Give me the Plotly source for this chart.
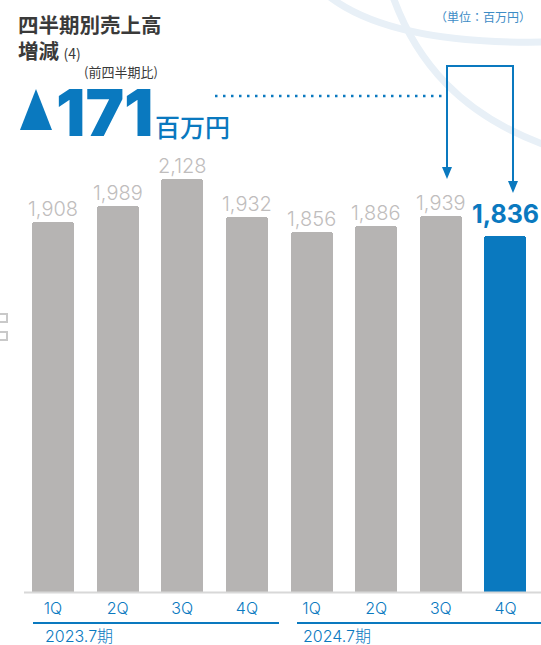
import plotly.graph_objects as go

W, H = 541, 645

# ---- data -------------------------------------------------------------
quarters = ["1Q", "2Q", "3Q", "4Q", "1Q", "2Q", "3Q", "4Q"]
sales = [1908, 1989, 2128, 1932, 1856, 1886, 1939, 1836]   # 百万円
periods = ["2023.7期", "2024.7期"]
change = 171                                              # 前四半期比 減少額（百万円）

# ---- styles -----------------------------------------------------------
BLUE = "#0a79bf"
GRAY_BAR = "#b6b4b3"
GRAY_LABEL = "#bfbdbd"
TEXT_DARK = "#3a3a3a"
ARC = "#e8f0f7"
FONT = "Inter, Noto Sans CJK JP, sans-serif"
CJK = "Noto Sans CJK JP, sans-serif"


def px(x):
    return x / W


def py(y):
    return 1 - y / H


def path(points, close=False):
    s = "M " + " L ".join(f"{px(x):.5f},{py(y):.5f}" for x, y in points)
    return s + (" Z" if close else "")


def curve(p0, c1, c2, p1):
    f = lambda p: f"{px(p[0]):.5f},{py(p[1]):.5f}"
    return f"M {f(p0)} C {f(c1)} {f(c2)} {f(p1)}"


x_pos = list(range(len(sales)))
colors = [GRAY_BAR] * (len(sales) - 1) + [BLUE]

fig = go.Figure(
    go.Bar(
        x=x_pos,
        y=sales,
        width=0.65,
        marker=dict(color=colors, line=dict(width=0), cornerradius=3),
        hoverinfo="skip",
    )
)

# value labels above each bar
annotations = []
for i, v in enumerate(sales):
    last = i == len(sales) - 1
    annotations.append(dict(
        x=i, y=v, xref="x", yref="y", text=f"<b>{v:,}</b>" if last else f"{v:,}",
        showarrow=False, yanchor="bottom", yshift=5 if last else -1,
        font=dict(family=FONT, size=25 if last else 20,
                  color=BLUE if last else GRAY_LABEL,
                  weight=700 if last else 300),
    ))

# fiscal period labels under the quarter ticks
for xp, label in zip((43, 301), periods):
    annotations.append(dict(
        x=px(xp), y=py(636), xref="paper", yref="paper", text=label,
        xanchor="left", yanchor="middle", showarrow=False,
        font=dict(family=FONT, size=16, color=BLUE, weight=300)))

# heading block
annotations += [
    dict(x=px(16), y=py(24), xref="paper", yref="paper", text="<b>四半期別売上高</b>",
         xanchor="left", yanchor="middle", showarrow=False,
         font=dict(family=CJK, size=20.5, color=TEXT_DARK)),
    dict(x=px(16), y=py(50), xref="paper", yref="paper",
         text="<b>増減</b> <span style='font-size:14px;font-weight:normal'>(4)</span>",
         xanchor="left", yanchor="middle", showarrow=False,
         font=dict(family=CJK, size=20.5, color=TEXT_DARK)),
    dict(x=px(82), y=py(71), xref="paper", yref="paper", text="(前四半期比)",
         xanchor="left", yanchor="middle", showarrow=False,
         font=dict(family=CJK, size=13, color=TEXT_DARK)),
    dict(x=px(54), y=py(113), xref="paper", yref="paper", text=f"{change}",
         xanchor="left", yanchor="middle", showarrow=False,
         font=dict(family="Inter", size=65, color=BLUE, weight=900)),
    dict(x=px(153), y=py(126), xref="paper", yref="paper", text="百万円",
         xanchor="left", yanchor="middle", showarrow=False,
         font=dict(family=CJK, size=25, color=BLUE, weight=500)),
    dict(x=px(533), y=py(16), xref="paper", yref="paper", text="（単位：百万円）",
         xanchor="right", yanchor="middle", showarrow=False,
         font=dict(family=CJK, size=12, color="#3d8cc6")),
]

shapes = [
    # decorative background arcs
    dict(type="path", xref="paper", yref="paper", layer="below",
         path=curve((326, -6), (370, 30), (450, 44), (548, 42)),
         line=dict(color=ARC, width=7)),
    dict(type="path", xref="paper", yref="paper", layer="below",
         path=curve((392, -6), (415, 60), (460, 115), (548, 146)),
         line=dict(color=ARC, width=7)),
    # baseline
    dict(type="line", xref="paper", yref="paper", x0=px(24), x1=px(541),
         y0=py(592.5), y1=py(592.5), line=dict(color="#d8d8d8", width=2)),
    # period underlines
    dict(type="line", xref="paper", yref="paper", x0=px(33), x1=px(279),
         y0=py(623), y1=py(623), line=dict(color=BLUE, width=2)),
    dict(type="line", xref="paper", yref="paper", x0=px(297), x1=px(541),
         y0=py(623), y1=py(623), line=dict(color=BLUE, width=2)),
    # decrease marker
    dict(type="path", xref="paper", yref="paper",
         path=path([(20, 130), (36, 89), (52, 130)], close=True),
         fillcolor=BLUE, line=dict(width=0)),
    # dotted leader
    dict(type="line", xref="paper", yref="paper", x0=px(215), x1=px(442),
         y0=py(96), y1=py(96), line=dict(color=BLUE, width=2.5, dash="2.5px,5.5px")),
    # comparison bracket with arrows
    dict(type="path", xref="paper", yref="paper",
         path=path([(447, 168), (447, 66), (513, 66), (513, 182)]),
         line=dict(color=BLUE, width=2)),
    dict(type="path", xref="paper", yref="paper",
         path=path([(442, 167), (452, 167), (447, 179)], close=True),
         fillcolor=BLUE, line=dict(width=0)),
    dict(type="path", xref="paper", yref="paper",
         path=path([(508, 181), (518, 181), (513, 193)], close=True),
         fillcolor=BLUE, line=dict(width=0)),
    # small marks at the left edge
    dict(type="rect", xref="paper", yref="paper", x0=px(-3), x1=px(7),
         y0=py(322), y1=py(314), line=dict(color="#c9c9c9", width=2)),
    dict(type="rect", xref="paper", yref="paper", x0=px(-3), x1=px(7),
         y0=py(340), y1=py(332), line=dict(color="#c9c9c9", width=2)),
]

step = 64.64
x0 = -53 / step
fig.update_layout(
    width=W, height=H,
    margin=dict(l=0, r=0, t=0, b=0),
    paper_bgcolor="white", plot_bgcolor="rgba(0,0,0,0)",
    showlegend=False,
    bargap=0,
    xaxis=dict(range=[x0, x0 + W / step], domain=[0, 1],
               tickvals=x_pos, ticktext=quarters, ticks="",
               ticklabelstandoff=5,
               showgrid=False, zeroline=False, showline=False,
               tickfont=dict(family=FONT, size=16, color=BLUE, weight=300)),
    yaxis=dict(range=[0, 592 / 0.1941], domain=[py(592), 1],
               visible=False, showgrid=False, zeroline=False),
    annotations=annotations,
    shapes=shapes,
)

fig.write_html("out.html")
